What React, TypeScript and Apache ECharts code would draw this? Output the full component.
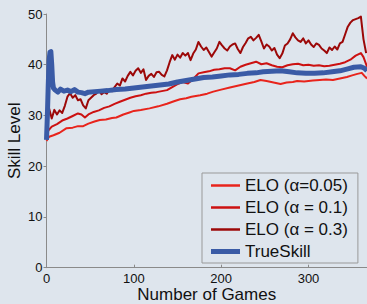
import React, { useEffect, useRef } from "react";
import * as echarts from "echarts";

// ---- data ----
const elo005Games = [0, 3, 8, 15, 23, 30, 36, 42, 48, 55, 61, 68, 75, 80, 88, 95, 100, 108, 118, 128, 138, 146, 153, 160, 166, 176, 184, 191, 200, 210, 220, 230, 238, 245, 252, 260, 268, 275, 282, 287, 295, 305, 313, 320, 328, 336, 344, 350, 356, 361, 364, 367];
const elo005Skill = [25.0, 25.8, 26.1, 26.6, 27.5, 27.6, 27.9, 27.9, 28.4, 28.8, 29.1, 29.2, 29.5, 29.6, 30.2, 30.6, 30.9, 31.1, 31.4, 31.8, 32.3, 32.8, 33.2, 33.4, 33.7, 34.0, 34.3, 34.7, 35.1, 35.5, 35.9, 36.3, 36.6, 37.0, 36.8, 36.5, 36.2, 36.5, 36.6, 36.8, 36.7, 36.9, 37.0, 37.1, 37.0, 37.3, 37.6, 37.9, 38.2, 38.4, 37.8, 37.3];

const elo01Games = [0, 2, 6, 12, 18, 24, 30, 36, 40, 44, 48, 54, 60, 66, 72, 78, 84, 90, 96, 102, 108, 114, 120, 126, 132, 138, 144, 150, 156, 162, 168, 174, 180, 186, 192, 198, 204, 210, 216, 222, 228, 234, 240, 246, 252, 258, 264, 270, 276, 282, 288, 294, 300, 306, 312, 318, 324, 330, 336, 342, 348, 354, 360, 363, 367];
const elo01Skill = [25.5, 27.0, 27.8, 28.3, 29.0, 29.4, 29.9, 30.4, 30.2, 29.6, 30.2, 30.7, 31.0, 31.5, 31.8, 32.3, 32.7, 33.1, 33.5, 33.8, 34.0, 34.3, 34.5, 34.6, 34.8, 35.0, 35.6, 36.2, 36.6, 36.3, 37.2, 38.3, 38.5, 38.7, 39.0, 39.1, 39.3, 39.3, 38.9, 39.6, 40.0, 40.3, 40.6, 40.1, 40.3, 39.9, 39.6, 39.5, 39.9, 40.1, 40.2, 39.9, 40.0, 39.8, 39.9, 39.7, 39.8, 40.0, 40.2, 40.5, 41.0, 41.8, 42.3, 41.5, 39.6];

const elo03Games = [0, 3, 6, 9, 12, 15, 18, 21, 24, 27, 30, 33, 36, 39, 42, 45, 48, 51, 54, 57, 60, 63, 66, 69, 72, 75, 78, 81, 84, 87, 90, 93, 96, 99, 102, 105, 108, 111, 114, 117, 120, 123, 126, 129, 132, 135, 138, 141, 144, 147, 150, 153, 156, 159, 162, 165, 168, 171, 174, 177, 180, 183, 186, 189, 192, 195, 198, 201, 204, 207, 210, 213, 216, 219, 222, 225, 228, 231, 234, 237, 240, 243, 246, 249, 252, 255, 258, 261, 264, 267, 270, 273, 276, 279, 282, 285, 288, 291, 294, 297, 300, 303, 306, 309, 312, 315, 318, 321, 324, 327, 330, 333, 336, 339, 342, 345, 348, 351, 354, 357, 360, 363, 366];
const elo03Skill = [27.0, 31.4, 29.4, 31.1, 30.2, 31.0, 30.5, 31.9, 33.7, 34.4, 33.5, 34.0, 33.0, 33.2, 32.0, 31.4, 33.0, 33.5, 34.0, 34.3, 35.0, 34.2, 34.6, 34.3, 35.1, 34.8, 35.6, 36.3, 35.9, 37.3, 36.7, 37.8, 38.6, 37.9, 38.8, 39.3, 38.4, 39.1, 37.0, 37.8, 38.2, 37.6, 38.5, 38.6, 38.0, 37.7, 38.9, 40.5, 41.9, 41.0, 42.0, 41.4, 42.3, 41.8, 42.3, 40.9, 42.2, 43.0, 44.5, 43.6, 42.9, 43.4, 42.5, 41.6, 42.4, 43.2, 44.5, 43.8, 43.2, 42.8, 43.6, 44.0, 44.2, 43.1, 42.3, 43.5, 44.3, 45.2, 45.5, 44.8, 45.3, 45.9, 44.6, 43.2, 44.0, 43.6, 42.8, 43.3, 42.0, 41.3, 42.2, 43.8, 44.2, 45.0, 46.2, 45.4, 44.8, 44.5, 45.2, 44.2, 44.8, 44.0, 43.5, 44.2, 43.9, 43.2, 42.8, 42.3, 43.4, 42.9, 43.6, 43.0, 44.2, 44.5, 46.0, 47.5, 48.3, 48.8, 49.0, 49.2, 49.5, 45.0, 42.3];

const trueSkillGames = [0, 1, 2, 3, 4, 5, 6, 7, 8, 10, 13, 16, 20, 24, 28, 32, 36, 40, 44, 48, 55, 62, 70, 80, 90, 100, 110, 120, 130, 140, 150, 160, 170, 180, 190, 200, 210, 220, 230, 240, 248, 258, 268, 278, 287, 297, 307, 317, 327, 336, 345, 352, 360, 364, 367];
const trueSkillSkill = [25.2, 30.0, 36.0, 41.0, 42.5, 42.6, 40.0, 36.5, 35.4, 35.0, 34.6, 35.2, 34.8, 35.0, 34.7, 35.1, 34.6, 34.5, 34.3, 34.6, 34.7, 34.8, 34.9, 35.1, 35.2, 35.4, 35.6, 35.8, 36.0, 36.2, 36.6, 36.9, 37.2, 37.5, 37.6, 37.8, 38.0, 38.1, 38.3, 38.4, 38.6, 38.7, 38.8, 38.6, 38.4, 38.3, 38.3, 38.4, 38.6, 38.8, 39.2, 39.5, 39.6, 39.3, 38.8];

const seriesNames = ["ELO (\u03b1=0.05)", "ELO (\u03b1 = 0.1)", "ELO (\u03b1 = 0.3)", "TrueSkill"];
const yTicks = [0, 10, 20, 30, 40, 50];
const xTicks = [0, 100, 200, 300];

const zip = (xs: number[], ys: number[]) => xs.map((x, i) => [x, ys[i]]);

const FONT = "'Liberation Sans', Arial, Helvetica, sans-serif";
const BG = "#dee5ed";
const COLORS = ["#e8241c", "#cc1111", "#9c0808", "#3a5ba6"];
const WIDTHS = [2, 2, 2, 5];

export default function App() {
  const ref = useRef<HTMLDivElement>(null);
  useEffect(() => {
    if (!ref.current) return;
    const chart = echarts.init(ref.current, undefined, { renderer: "svg" });
    const datasets = [
      zip(elo005Games, elo005Skill),
      zip(elo01Games, elo01Skill),
      zip(elo03Games, elo03Skill),
      zip(trueSkillGames, trueSkillSkill),
    ];
    chart.setOption({
      animation: false,
      backgroundColor: BG,
      textStyle: { fontFamily: FONT },
      grid: { left: 46.5, top: 14, right: 0, bottom: 36.3, containLabel: false, outerBoundsMode: "none" },
      xAxis: {
        type: "value",
        min: 0,
        max: 367,
        interval: 100,
        name: "Number of Games",
        nameLocation: "middle",
        nameGap: 18,
        nameMoveOverlap: false,
        nameTextStyle: { fontSize: 17, color: "#111", fontFamily: FONT },
        axisLine: { show: true, lineStyle: { color: "#8a8a8a", width: 1 } },
        axisTick: { show: true, inside: true, length: 3, lineStyle: { color: "#8a8a8a" } },
        axisLabel: {
          fontSize: 13,
          color: "#111",
          margin: 4,
          fontFamily: FONT,
          showMaxLabel: false,
          formatter: (v: number) => (xTicks.includes(v) ? String(v) : ""),
        },
        splitLine: { show: false },
      },
      yAxis: {
        type: "value",
        min: yTicks[0],
        max: yTicks[yTicks.length - 1],
        interval: 10,
        name: "Skill Level",
        nameLocation: "middle",
        nameGap: 24,
        nameMoveOverlap: false,
        nameTextStyle: { fontSize: 17, color: "#111", fontFamily: FONT },
        axisLine: { show: true, lineStyle: { color: "#8a8a8a", width: 1 } },
        axisTick: { show: true, inside: false, length: 3, lineStyle: { color: "#8a8a8a" } },
        axisLabel: { fontSize: 13, color: "#111", margin: 4, fontFamily: FONT },
        splitLine: { show: false },
      },
      legend: {
        orient: "vertical",
        left: 202,
        top: 173,
        padding: [4, 10, 3, 9],
        itemWidth: 29,
        itemHeight: 14,
        itemGap: 5,
        itemTextGap: 10,
        backgroundColor: BG,
        borderColor: "#999999",
        borderWidth: 1,
        textStyle: { fontSize: 17, color: "#111", fontFamily: FONT },
        data: seriesNames.map((n, i) => ({
          name: n,
          icon: i === 3 ? "path://M0,0 L29,0 L29,5 L0,5 Z" : "path://M0,0 L29,0 L29,2.5 L0,2.5 Z",
        })),
      },
      series: seriesNames.map((n, i) => ({
        name: n,
        type: "line",
        data: datasets[i],
        symbol: "none",
        showSymbol: false,
        clip: true,
        z: i === 3 ? 5 : 2,
        lineStyle: { color: COLORS[i], width: WIDTHS[i], join: "round" },
        itemStyle: { color: COLORS[i] },
      })),
    });
    return () => chart.dispose();
  }, []);
  return (
    <div
      ref={ref}
      style={{ position: "absolute", left: 0, top: 0, width: 367, height: 304, background: BG }}
    />
  );
}
